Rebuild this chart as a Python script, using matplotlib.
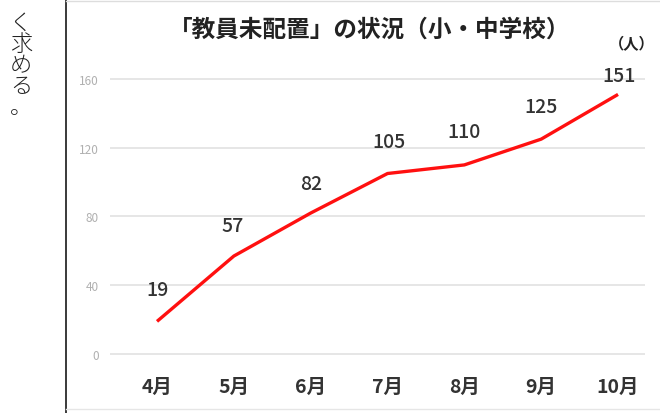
import matplotlib
matplotlib.use('Agg')
import matplotlib.pyplot as plt
from matplotlib.lines import Line2D

plt.rcParams['font.family'] = ['Noto Sans CJK JP', 'DejaVu Sans']

months = ['4月', '5月', '6月', '7月', '8月', '9月', '10月']
teachers = [19, 57, 82, 105, 110, 125, 151]
y_ticks = [0, 40, 80, 120, 160]
title = '「教員未配置」の状況（小・中学校）'
unit = '（人）'
side_text = 'く求める。'

W, H = 660, 414
fig = plt.figure(figsize=(W / 100, H / 100), dpi=100)
fig.patch.set_facecolor('white')

# axes box in pixels: left 110, right 645, top 60, bottom 370
ax = fig.add_axes([110 / W, 1 - 370 / H, 535 / W, 310 / H])
x = list(range(len(months)))
ax.plot(x, teachers, color='#ff1010', lw=2.4, solid_capstyle='butt', zorder=3)
ax.set_xlim(-0.612, 6.351)
ax.set_ylim(-8.7, 171.6)

ax.set_yticks(y_ticks)
ax.set_yticklabels([str(v) for v in y_ticks], color='#b0b0b0', fontsize=8.5)
ax.set_xticks(x)
ax.set_xticklabels(months, fontsize=14, fontweight='bold', color='#333333')
ax.tick_params(axis='y', length=0, pad=8)
ax.tick_params(axis='x', length=0, pad=6)
ax.grid(axis='y', color='#e2e2e2', lw=1.2)
ax.set_axisbelow(True)
for s in ax.spines.values():
    s.set_visible(False)
ax.set_facecolor('none')

# label centre offsets from each point, in pixels
offsets = [(0, 32), (-1, 31), (0, 30), (1, 32), (0, 33), (0, 33), (1, 19)]
for xi, v, off in zip(x, teachers, offsets):
    ax.annotate(str(v), (xi, v), xytext=off, textcoords='offset pixels',
                ha='center', va='center', fontsize=14, fontweight='medium',
                color='#333333')

fig.text(370 / W, 1 - 30 / H, title, ha='center', va='center',
         fontsize=17, fontweight='bold', color='#222222')
fig.text(632 / W, 1 - 44 / H, unit, ha='center', va='center',
         fontsize=11, fontweight='bold', color='#222222')

# page elements: vertical rule and side text
fig.add_artist(Line2D([66 / W, 66 / W], [0, 1], color='#3a3a3a', lw=1.4))
fig.add_artist(Line2D([66 / W, 1], [1 - 2 / H, 1 - 2 / H], color='#dddddd', lw=1))
fig.add_artist(Line2D([66 / W, 1], [1 - 410 / H, 1 - 410 / H], color='#e6e6e6', lw=1))
for i, ch in enumerate(side_text):
    fig.text(21 / W, 1 - (24 + 21 * i) / H, ch, ha='center', va='center',
             fontsize=16, fontweight='light', color='#222222')

fig.savefig('out.png', dpi=100)
